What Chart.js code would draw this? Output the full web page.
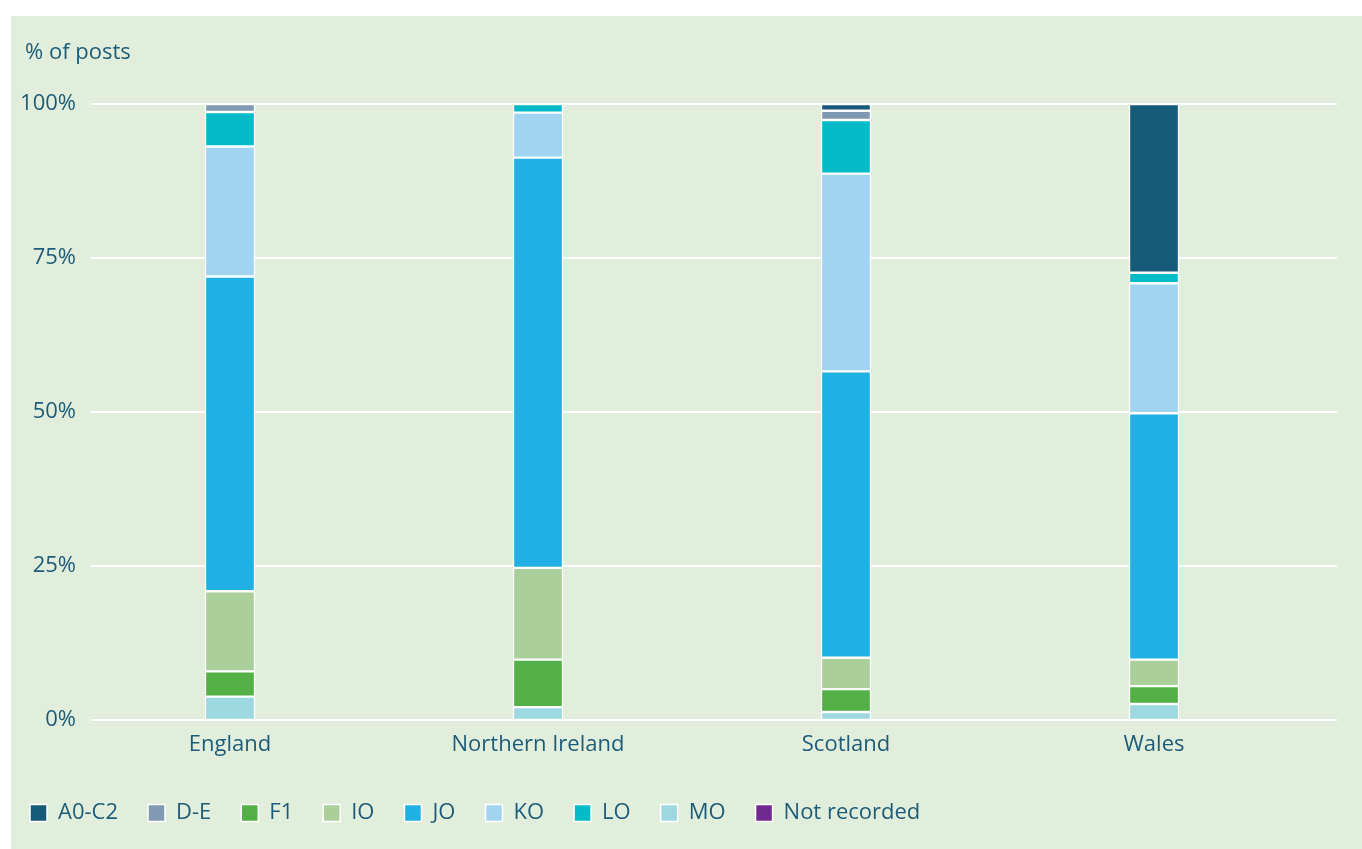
<!DOCTYPE html>
<html>
<head>
<meta charset="utf-8">
<script src="https://cdn.jsdelivr.net/npm/chart.js@4/dist/chart.umd.min.js"></script>
<style>
  html, body { margin: 0; padding: 0; background: #fff; }
  #panel { position: absolute; left: 11px; top: 16px; width: 1351px; height: 833px; background: #e2eedc; }
  #wrap { position: absolute; left: 0; top: 0; width: 1362px; height: 849px; }
</style>
</head>
<body>
<div id="panel"></div>
<div id="wrap"><canvas id="chart"></canvas></div>
<script>
// % of posts by grade, per nation
const countries = ['England', 'Northern Ireland', 'Scotland', 'Wales'];

const a0c2 = [0, 0, 1.1, 27.4];
const de = [1.3, 0, 1.5, 0];
const f1 = [4.1, 7.7, 3.7, 2.9];
const io = [13.0, 14.9, 5.1, 4.3];
const jo = [51.1, 66.6, 46.5, 40.0];
const ko = [21.1, 7.3, 32.1, 21.1];
const lo = [5.6, 1.4, 8.7, 1.7];
const mo = [3.8, 2.1, 1.3, 2.6];
const notRecorded = [0, 0, 0, 0];

const yTicks = [0, 25, 50, 75, 100];
const legendOrder = ['A0-C2', 'D-E', 'F1', 'IO', 'JO', 'KO', 'LO', 'MO', 'Not recorded'];

const textColor = '#1d5c78';
const fontFamily = '"Open Sans", "Noto Sans", sans-serif';
const fontSize = 22;

// stacking order, bottom to top
const series = [
  {label: 'MO', data: mo, color: '#9dd8e0'},
  {label: 'F1', data: f1, color: '#52b046'},
  {label: 'IO', data: io, color: '#aacf9a'},
  {label: 'JO', data: jo, color: '#20b0e4'},
  {label: 'KO', data: ko, color: '#a1d4f1'},
  {label: 'LO', data: lo, color: '#04bbc7'},
  {label: 'D-E', data: de, color: '#7f9ab2'},
  {label: 'A0-C2', data: a0c2, color: '#165a7a'},
  {label: 'Not recorded', data: notRecorded, color: '#70298e'},
];

// white gridlines that run a bit wider than the bars area, plus the axis caption
const extras = {
  id: 'extras',
  beforeDatasetsDraw(chart) {
    const {ctx} = chart;
    const y = chart.scales.y;
    ctx.save();
    ctx.strokeStyle = '#ffffff';
    ctx.lineWidth = 2;
    yTicks.forEach(v => {
      const py = Math.round(y.getPixelForValue(v));
      ctx.beginPath();
      ctx.moveTo(91, py);
      ctx.lineTo(1337, py);
      ctx.stroke();
    });
    ctx.restore();
  },
  afterDraw(chart) {
    const {ctx} = chart;
    ctx.save();
    ctx.fillStyle = textColor;
    ctx.font = fontSize + 'px ' + fontFamily;
    ctx.textBaseline = 'middle';
    ctx.fillText('% of posts', 25, 53);
    ctx.restore();
  }
};

new Chart(document.getElementById('chart'), {
  type: 'bar',
  data: {
    labels: countries,
    datasets: series.map(s => ({
      label: s.label,
      data: s.data,
      backgroundColor: s.color,
      borderColor: '#ffffff',
      borderWidth: 1.5,
      borderSkipped: false,
      barThickness: 50,
    }))
  },
  options: {
    responsive: true,
    maintainAspectRatio: false,
    animation: false,
    layout: { padding: { left: 0, right: 54, top: 104, bottom: 15 } },
    plugins: {
      tooltip: { enabled: false },
      legend: {
        position: 'bottom',
        align: 'start',
        labels: {
          color: textColor,
          font: { family: fontFamily, size: fontSize },
          boxWidth: 17,
          boxHeight: 17,
          padding: 30,
          sort: (a, b) => legendOrder.indexOf(a.text) - legendOrder.indexOf(b.text),
        }
      }
    },
    scales: {
      x: {
        stacked: true,
        grid: { display: false, drawTicks: false },
        border: { display: false },
        ticks: { color: textColor, font: { family: fontFamily, size: fontSize }, padding: 12 },
        afterFit(scale) { scale.height = 52; }
      },
      y: {
        stacked: true,
        min: 0,
        max: 100,
        grid: { display: false, drawTicks: false },
        border: { display: false },
        afterBuildTicks(scale) { scale.ticks = yTicks.map(v => ({value: v})); },
        ticks: {
          color: textColor,
          font: { family: fontFamily, size: fontSize },
          padding: 0,
          callback: v => v + '%'
        },
        afterFit(scale) { scale.width = 76; }
      }
    }
  },
  plugins: [extras]
});
</script>
</body>
</html>
